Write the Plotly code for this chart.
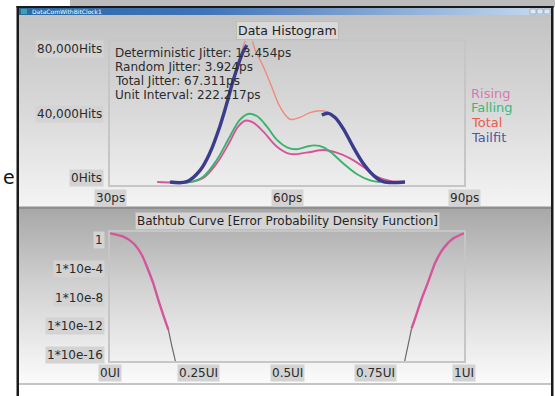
import base64
import math
import plotly.graph_objects as go

W, H = 555, 396

# ---------------- data ----------------
rising_ps = [38, 43.5, 45.8, 48.1, 50.3, 51.7, 52.9, 54.3, 56.0, 58.3, 60.5, 63.3, 66.2, 68.4, 70.7, 72.9, 75.2, 77.5, 80]
rising_hits = [0, 0, 2500, 11600, 25000, 34300, 38000, 36800, 31200, 21900, 17400, 18200, 19800, 18200, 14700, 9500, 3300, 600, 0]

falling_ps = [40, 43.6, 45.8, 48.1, 50.3, 52.0, 53.4, 54.9, 56.6, 58.3, 60.0, 61.6, 63.3, 64.7, 66.2, 67.8, 69.5, 71.8, 74.1, 75.8]
falling_hits = [0, 0, 3300, 13700, 28100, 38500, 42200, 40900, 34300, 26100, 21500, 20300, 21900, 22700, 21500, 17400, 11600, 5000, 1000, 0]

total_ps = [40, 43, 45.3, 46.9, 48.6, 49.8, 50.9, 52.0, 53.0, 53.8, 54.6, 56.0, 57.4, 58.8, 60.5, 62.2, 63.9, 65.6, 66.7, 68.1, 69.5, 71.2, 72.9, 74.6, 76.3, 80]
total_hits = [0, 200, 7400, 17800, 34300, 48800, 63200, 75600, 88000, 90000, 81800, 71500, 59100, 46700, 38900, 40100, 43000, 44200, 43600, 40100, 33300, 21900, 11600, 4300, 600, 0]

tailfit_ps = [40.2, 43.0, 45.3, 46.9, 48.6, 49.8, 50.9, 52.0, 52.7, 53.2, None, 65.9, 67.0, 68.1, 69.5, 71.2, 72.9, 74.6, 76.3, 80]
tailfit_hits = [0, 200, 7400, 17800, 34300, 48800, 63200, 75600, 81800, 84900, None, 41500, 42600, 40100, 33300, 21900, 11600, 4300, 200, 0]

hist_x_ticks = [30, 60, 90]
hist_x_labels = ["30ps", "60ps", "90ps"]
hist_y_ticks = [0, 40000, 80000]
hist_y_labels = ["0Hits", "40,000Hits", "80,000Hits"]

stats_lines = ["Deterministic Jitter: 13.454ps", "Random Jitter: 3.924ps",
               "Total Jitter: 67.311ps", "Unit Interval: 222.217ps"]
legend_names = ["Rising", "Falling", "Total", "Tailfit"]

bt_left_ui = [0.0, 0.038, 0.066, 0.090, 0.108, 0.122, 0.141, 0.160, 0.165]
bt_left_ber = [8.5, 2.9, 0.35, 8.1e-3, 6.8e-5, 1.0e-6, 9.1e-10, 1.6e-12, 3.2e-13]
bt_left_ext_ui = [0.165, 0.174, 0.184, 0.187]
bt_left_ext_ber = [3.2e-13, 2.5e-15, 2.0e-17, 3.0e-18]

bt_right_ui = [0.852, 0.862, 0.881, 0.899, 0.909, 0.918, 0.942, 0.970, 1.0]
bt_right_ber = [5.0e-13, 1.3e-11, 7.8e-9, 1.6e-6, 3.9e-5, 5.8e-4, 7.1e-2, 1.7, 8.5]
bt_right_ext_ui = [0.830, 0.833, 0.843, 0.852]
bt_right_ext_ber = [3.0e-18, 2.0e-17, 4.0e-15, 5.0e-13]

bt_x_ticks = [0, 0.25, 0.5, 0.75, 1]
bt_x_labels = ["0UI", "0.25UI", "0.5UI", "0.75UI", "1UI"]
bt_y_ticks = [1, 1e-4, 1e-8, 1e-12, 1e-16]
bt_y_labels = ["1", "1*10e-4", "1*10e-8", "1*10e-12", "1*10e-16"]

# ---------------- helpers ----------------
def px(x):
    return x / W

def py(y):
    return 1 - y / H

def grad_uri(stops, horizontal=False):
    x2, y2 = ("1", "0") if horizontal else ("0", "1")
    st = "".join(f'<stop offset="{o}" stop-color="{c}"/>' for o, c in stops)
    svg = (f'<svg xmlns="http://www.w3.org/2000/svg" width="100" height="100" preserveAspectRatio="none" viewBox="0 0 100 100">'
           f'<defs><linearGradient id="g" x1="0" y1="0" x2="{x2}" y2="{y2}">{st}</linearGradient></defs>'
           f'<rect width="100" height="100" fill="url(#g)"/></svg>')
    return "data:image/svg+xml;base64," + base64.b64encode(svg.encode()).decode()

def bg_image(uri, x0, y0, x1, y1):
    return dict(source=uri, xref="paper", yref="paper", x=px(x0), y=py(y0),
                sizex=px(x1 - x0), sizey=(y1 - y0) / H, sizing="stretch",
                xanchor="left", yanchor="top", layer="below")

FONT = "DejaVu Sans"
PINK, GREEN, SALMON, NAVY = "#d4559c", "#3ab36e", "#f08a7c", "#3c3c8c"

fig = go.Figure()

# ---------------- histogram traces ----------------
fig.add_trace(go.Scatter(x=total_ps, y=total_hits, mode="lines", line=dict(color=SALMON, width=1.4, shape="spline"),
                         xaxis="x", yaxis="y", showlegend=False))
fig.add_trace(go.Scatter(x=rising_ps, y=rising_hits, mode="lines", line=dict(color=PINK, width=1.9, shape="spline"),
                         xaxis="x", yaxis="y", showlegend=False))
fig.add_trace(go.Scatter(x=falling_ps, y=falling_hits, mode="lines", line=dict(color=GREEN, width=1.9, shape="spline"),
                         xaxis="x", yaxis="y", showlegend=False))
fig.add_trace(go.Scatter(x=tailfit_ps, y=tailfit_hits, mode="lines", connectgaps=False,
                         line=dict(color=NAVY, width=3.4, shape="spline"),
                         xaxis="x", yaxis="y", showlegend=False))

# ---------------- bathtub traces ----------------
for xs, ys, col, wd in [(bt_left_ext_ui, bt_left_ext_ber, "#6a6a6a", 1.2),
                        (bt_right_ext_ui, bt_right_ext_ber, "#6a6a6a", 1.2),
                        (bt_left_ui, bt_left_ber, PINK, 2.4),
                        (bt_right_ui, bt_right_ber, PINK, 2.4)]:
    fig.add_trace(go.Scatter(x=xs, y=ys, mode="lines", line=dict(color=col, width=wd, shape="spline", smoothing=0.6),
                             xaxis="x2", yaxis="y2", showlegend=False))

# ---------------- axes ----------------
frame = dict(showline=True, mirror=True, linecolor="#c6c6c6", linewidth=1.5, showgrid=False,
             zeroline=False, showticklabels=False, ticks="")
fig.update_layout(
    width=W, height=H, margin=dict(l=0, r=0, t=0, b=0),
    paper_bgcolor="white", plot_bgcolor="rgba(0,0,0,0)",
    font=dict(family=FONT, color="#333333"),
    xaxis=dict(domain=[px(110), px(464)], range=[30, 90], anchor="y", **frame),
    yaxis=dict(domain=[py(185), py(41)], range=[-1860, 87440], anchor="x", **frame),
    xaxis2=dict(domain=[px(110), px(464)], range=[0, 1], anchor="y2", **frame),
    yaxis2=dict(domain=[py(361), py(232)], type="log", range=[-16.83, 1.11], anchor="x2", **frame),
)

# ---------------- backgrounds ----------------
images = [
    bg_image(grad_uri([(0, "#c3c3c3"), (0.5, "#d9d9d9"), (1, "#f4f4f4")]), 19, 15, 551, 207),
    bg_image(grad_uri([(0, "#a8a8a8"), (0.45, "#d2d2d2"), (1, "#fbfbfb")]), 19, 209, 551, 383),
    bg_image(grad_uri([(0, "#2b6aa6"), (0.35, "#3f74b8"), (1, "#c9dbee")], horizontal=True), 19, 8, 551, 15),
]
fig.update_layout(images=images)

shapes = []
def rect(x0, y0, x1, y1, fill, line=None, lw=0, layer="below"):
    shapes.append(dict(type="rect", xref="paper", yref="paper", x0=px(x0), x1=px(x1), y0=py(y1), y1=py(y0),
                       fillcolor=fill, line=dict(color=line or fill, width=lw), layer=layer))

rect(70, 0, 555, 7, "#bcbcbc")
rect(16.5, 6, 553.5, 8, "#1a1a1a", layer="above")       # top border
rect(16.5, 6, 19, 396, "#1a1a1a", layer="above")        # left border
rect(551, 6, 553.5, 396, "#1a1a1a", layer="above")      # right border
rect(19, 206.5, 551, 209, "#8f8f8f", layer="above")     # separator
rect(19, 383, 551, 385, "#c4c4c4", layer="above")       # bottom edge of panel
rect(21, 9, 27, 14, "#39a6a0", layer="above")           # title icon
for bx in (530, 537, 544):
    rect(bx, 9, bx + 6, 14, "#dfe6ee", line="#8a98a8", lw=0.6, layer="above")
fig.update_layout(shapes=shapes)

# ---------------- text ----------------
ann = []
LBL_BG = "#d3d3d3"

ann.append(dict(text="DataComWithBitClock1", xref="paper", yref="paper", x=px(30), y=py(11.5),
                xanchor="left", yanchor="middle", showarrow=False, font=dict(size=6, color="white", family=FONT)))
ann.append(dict(text="e", xref="paper", yref="paper", x=px(1), y=py(177), xanchor="left", yanchor="middle",
                showarrow=False, font=dict(size=19, color="#111111", family=FONT)))

ann.append(dict(text="Data Histogram", xref="paper", yref="paper", x=px(287), y=py(30), xanchor="center",
                yanchor="middle", showarrow=False, bgcolor="#d9d9d9", bordercolor="#bdbdbd", borderwidth=1,
                borderpad=1, font=dict(size=12.5, color="#222222", family=FONT)))
ann.append(dict(text="Bathtub Curve [Error Probability Density Function]", xref="paper", yref="paper",
                x=px(287), y=py(221), xanchor="center", yanchor="middle", showarrow=False, bgcolor="#d4d4d4",
                bordercolor="#bdbdbd", borderwidth=1, borderpad=1,
                font=dict(size=12, color="#222222", family=FONT)))

for v, t in zip(hist_y_ticks, hist_y_labels):
    ann.append(dict(text=t, xref="paper", yref="y", x=px(104), y=v, yshift=4, xanchor="right", yanchor="middle",
                    showarrow=False, bgcolor=LBL_BG, borderpad=1, font=dict(size=12, color="#2a2a2a", family=FONT)))
for v, t in zip(hist_x_ticks, hist_x_labels):
    ann.append(dict(text=t, xref="x", yref="paper", x=v, y=py(198), xanchor="center", yanchor="middle",
                    showarrow=False, bgcolor=LBL_BG, borderpad=1, font=dict(size=12, color="#2a2a2a", family=FONT)))
for v, t in zip(bt_x_ticks, bt_x_labels):
    ann.append(dict(text=t, xref="x2", yref="paper", x=v, y=py(373), xanchor="center", yanchor="middle",
                    showarrow=False, bgcolor=LBL_BG, borderpad=1, font=dict(size=12, color="#2a2a2a", family=FONT)))
for v, t in zip(bt_y_ticks, bt_y_labels):
    ann.append(dict(text=t, xref="paper", yref="y2", x=px(105), y=math.log10(v), xanchor="right",
                    yanchor="middle", showarrow=False, bgcolor=LBL_BG, borderpad=1,
                    font=dict(size=12, color="#2a2a2a", family=FONT)))

for i, line in enumerate(stats_lines):
    ann.append(dict(text=line, xref="paper", yref="paper", x=px(113), y=py(53 + 14 * i), xanchor="left",
                    yanchor="middle", showarrow=False, font=dict(size=12, color="#2b2b2b", family=FONT)))

leg_cols = ["#d77ab0", "#3cb878", "#ec5b4c", "#4a58a6"]
for i, (name, col) in enumerate(zip(legend_names, leg_cols)):
    ann.append(dict(text=name, xref="paper", yref="paper", x=px(469), y=py(93 + 14.7 * i), xanchor="left",
                    yanchor="middle", showarrow=False, font=dict(size=13, color=col, family=FONT)))

fig.update_layout(annotations=ann)

fig.write_html("out.html")
